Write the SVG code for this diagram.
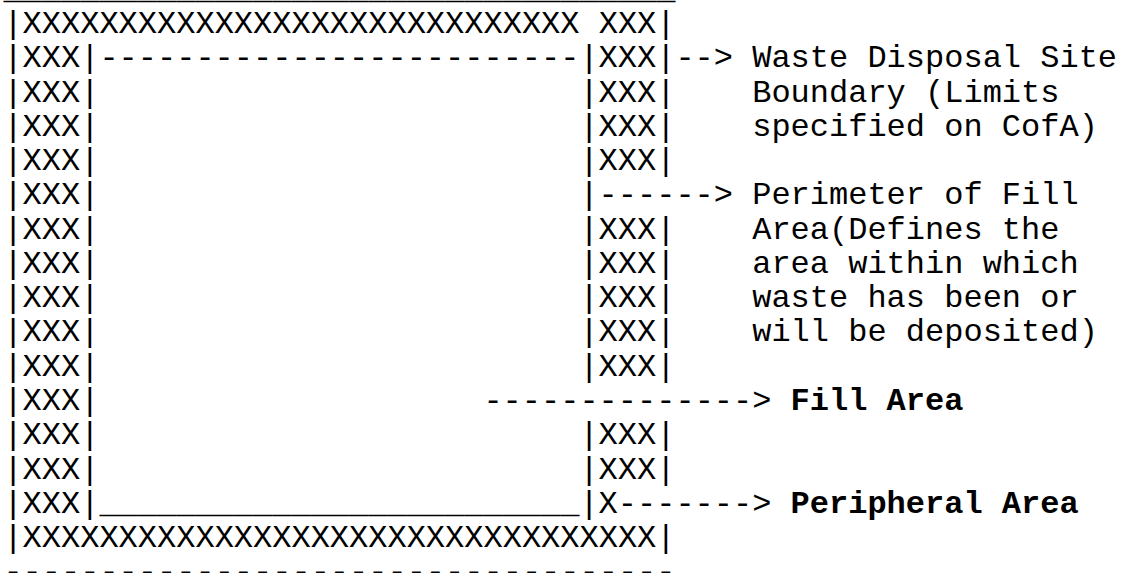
<svg xmlns="http://www.w3.org/2000/svg" width="1128" height="573" viewBox="0 0 1128 573">
<style>
text{font-family:"Liberation Mono","Courier New",monospace;font-size:32px;fill:#000;white-space:pre}
.b{font-weight:bold}
</style>
<rect width="1128" height="573" fill="#fff"/>
<g id="site-boundary" xml:space="preserve">
<text x="3.4" y="-1.3">___________________________________</text>
<text x="3.4" y="33">|XXXXXXXXXXXXXXXXXXXXXXXXXXXXX XXX|</text>
<text x="3.4" y="67.3">|XXX|</text><text x="579.4" y="67.3">|XXX|</text>
<text x="3.4" y="101.5">|XXX|</text><text x="579.4" y="101.5">|XXX|</text>
<text x="3.4" y="135.8">|XXX|</text><text x="579.4" y="135.8">|XXX|</text>
<text x="3.4" y="170.1">|XXX|</text><text x="579.4" y="170.1">|XXX|</text>
<text x="3.4" y="204.4">|XXX|</text><text x="579.4" y="204.4">|</text>
<text x="3.4" y="238.6">|XXX|</text><text x="579.4" y="238.6">|XXX|</text>
<text x="3.4" y="272.9">|XXX|</text><text x="579.4" y="272.9">|XXX|</text>
<text x="3.4" y="307.2">|XXX|</text><text x="579.4" y="307.2">|XXX|</text>
<text x="3.4" y="341.4">|XXX|</text><text x="579.4" y="341.4">|XXX|</text>
<text x="3.4" y="375.7">|XXX|</text><text x="579.4" y="375.7">|XXX|</text>
<text x="3.4" y="410">|XXX|</text>
<text x="3.4" y="444.3">|XXX|</text><text x="579.4" y="444.3">|XXX|</text>
<text x="3.4" y="478.5">|XXX|</text><text x="579.4" y="478.5">|XXX|</text>
<text x="3.4" y="512.8">|XXX|</text><text x="579.4" y="512.8">|X</text>
<text x="3.4" y="547.1">|XXXXXXXXXXXXXXXXXXXXXXXXXXXXXXXXX|</text>
<text x="3.4" y="581.3">-----------------------------------</text>
</g>
<g id="fill-area" xml:space="preserve">
<text x="99.4" y="67.3">-------------------------</text>
<text x="99.4" y="512.8">_________________________</text>
</g>
<g id="connectors" xml:space="preserve">
<text x="675.4" y="67.3">--&gt;</text>
<text x="598.6" y="204.4">------&gt;</text>
<text x="483.4" y="410">--------------&gt;</text>
<text x="617.8" y="512.8">-------&gt;</text>
</g>
<g id="label-site-boundary">
<text x="752.2" y="67.3">Waste Disposal Site</text>
<text x="752.2" y="101.5">Boundary (Limits</text>
<text x="752.2" y="135.8">specified on CofA)</text>
</g>
<g id="label-perimeter">
<text x="752.2" y="204.4">Perimeter of Fill</text>
<text x="752.2" y="238.6">Area(Defines the</text>
<text x="752.2" y="272.9">area within which</text>
<text x="752.2" y="307.2">waste has been or</text>
<text x="752.2" y="341.4">will be deposited)</text>
</g>
<g id="label-fill-area">
<text class="b" x="790.6" y="410">Fill Area</text>
</g>
<g id="label-peripheral-area">
<text class="b" x="790.6" y="512.8">Peripheral Area</text>
</g>
</svg>
